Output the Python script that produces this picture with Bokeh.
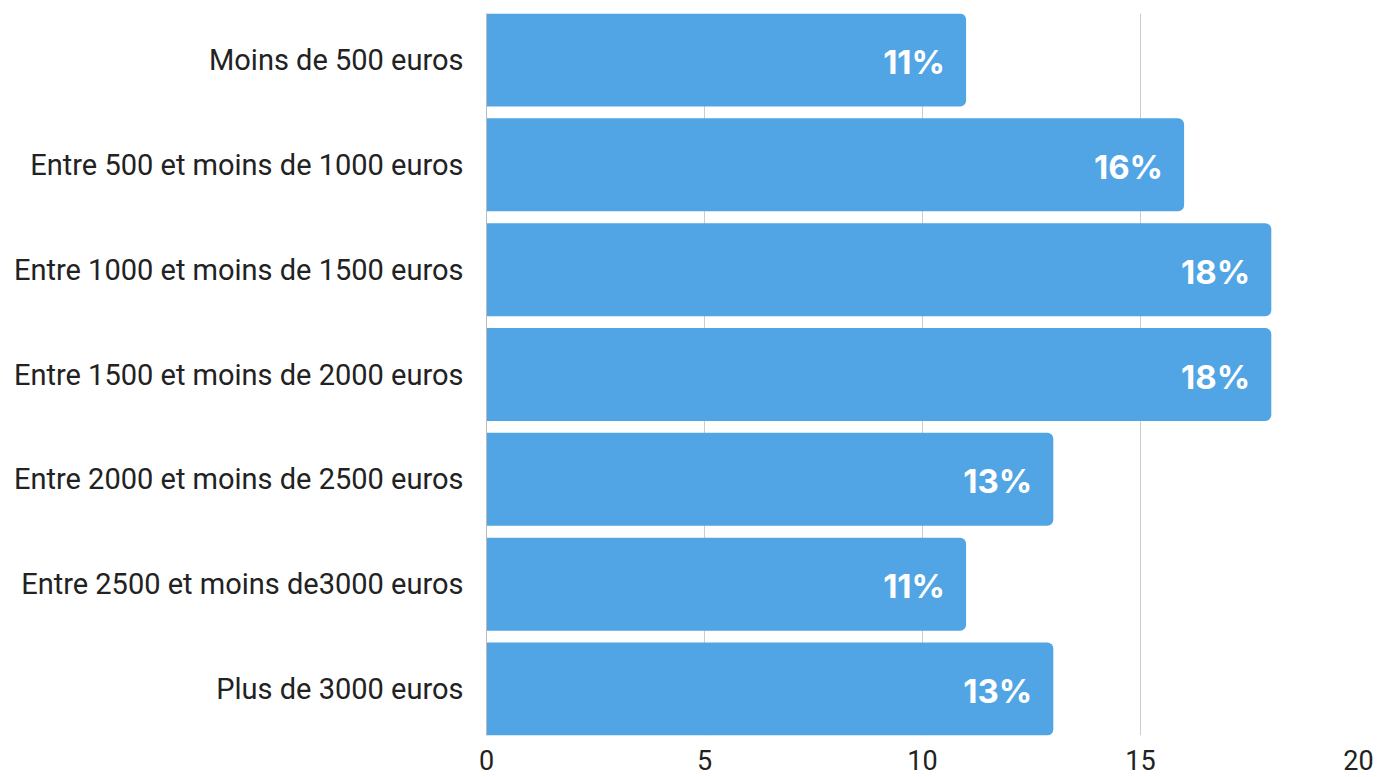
from bokeh.plotting import figure
from bokeh.models import Range1d, FixedTicker, ColumnDataSource, LabelSet
from bokeh.embed import file_html
from bokeh.resources import INLINE
from bokeh.core.properties import value

categories = [
    "Moins de 500 euros",
    "Entre 500 et moins de 1000 euros",
    "Entre 1000 et moins de 1500 euros",
    "Entre 1500 et moins de 2000 euros",
    "Entre 2000 et moins de 2500 euros",
    "Entre 2500 et moins de3000 euros",
    "Plus de 3000 euros",
]
values = [11, 16, 18, 18, 13, 11, 13]
x_ticks = [0, 5, 10, 15, 20]

BAR_H = 0.887
idx = list(range(len(categories)))
src = ColumnDataSource(dict(
    y=idx,
    v=values,
    lbl=[f"{v}%" for v in values],
))

p = figure(
    width=1378, height=777,
    output_backend="svg", toolbar_location=None,
    x_range=Range1d(0, 20),
    y_range=Range1d(len(categories) - 1 + BAR_H / 2, -BAR_H / 2),
    min_border_left=486, min_border_right=20, min_border_top=13, min_border_bottom=42,
)
p.outline_line_color = None
p.background_fill_color = "white"
p.border_fill_color = "white"

p.hbar(y="y", right="v", left=0, height=BAR_H, source=src,
       fill_color="#51a5e5", line_color=None, border_radius=(0, 6, 6, 0))

labels = LabelSet(x="v", y="y", text="lbl", source=src,
                  x_offset=-21, y_offset=-2, text_align="right", text_baseline="middle",
                  text_color="white", text_font=value("Inter"), text_font_style="bold",
                  text_font_size="33px")
p.add_layout(labels)

# x axis
p.xaxis.ticker = FixedTicker(ticks=x_ticks)
p.xaxis.axis_line_color = None
p.xaxis.major_tick_line_color = None
p.xaxis.minor_tick_line_color = None
p.xaxis.major_label_text_font = "Roboto"
p.xaxis.major_label_text_font_size = "27px"
p.xaxis.major_label_text_color = "#222222"
p.xaxis.major_label_standoff = 8

# y axis
p.yaxis.ticker = FixedTicker(ticks=idx)
p.yaxis.major_label_overrides = {i: c for i, c in zip(idx, categories)}
p.yaxis.axis_line_color = "#bbbbbb"
p.yaxis.major_tick_line_color = None
p.yaxis.minor_tick_line_color = None
p.yaxis.major_label_text_font = "Roboto"
p.yaxis.major_label_text_font_size = "29px"
p.yaxis.major_label_text_color = "#222222"
p.yaxis.major_label_standoff = 17

p.xgrid.ticker = FixedTicker(ticks=x_ticks)
p.xgrid.grid_line_color = "#cccccc"
p.ygrid.grid_line_color = None

open("out.html", "w").write(file_html(p, INLINE))
